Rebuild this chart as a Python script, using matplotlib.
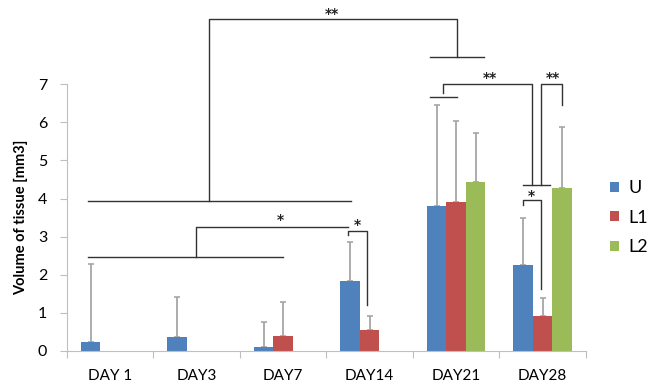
import numpy as np
import matplotlib
matplotlib.use("Agg")
from matplotlib import pyplot as plt

plt.rcParams['font.family'] = ['Lato', 'DejaVu Sans']

# data
days = ["DAY 1", "DAY3", "DAY7", "DAY14", "DAY21", "DAY28"]
series = ["U", "L1", "L2"]
colors = ["#4F81BD", "#C0504D", "#9BBB59"]
u_vals = [0.24, 0.37, 0.11, 1.84, 3.81, 2.27]
l1_vals = [0.0, 0.0, 0.40, 0.55, 3.92, 0.92]
l2_vals = [0.0, 0.0, 0.0, 0.0, 4.44, 4.27]
u_err = [2.04, 1.04, 0.66, 1.01, 2.65, 1.23]
l1_err = [0.0, 0.0, 0.89, 0.38, 2.11, 0.48]
l2_err = [0.0, 0.0, 0.0, 0.0, 1.28, 1.61]

# significance brackets: polylines in data coords (x = category index, y = mm3)
brackets = [
    [(-0.25, 2.47), (2.0, 2.47)],
    [(0.99, 2.47), (0.99, 3.26), (2.75, 3.26)],
    [(-0.25, 3.93), (2.79, 3.93)],
    [(2.75, 3.04), (2.75, 3.15), (2.97, 3.15), (2.97, 1.21)],
    [(1.15, 3.93), (1.15, 8.71), (4.01, 8.71), (4.01, 7.72)],
    [(3.70, 7.72), (4.32, 7.72)],
    [(3.70, 6.67), (4.01, 6.67)],
    [(3.85, 6.78), (3.85, 7.01), (4.88, 7.01), (4.88, 4.36)],
    [(4.77, 4.36), (5.09, 4.36)],
    [(4.98, 4.36), (4.98, 7.01), (5.22, 7.01), (5.22, 6.46)],
    [(4.77, 3.84), (4.77, 3.96), (4.98, 3.96), (4.98, 1.62)],
]
stars = [("**", 2.57, 8.84), ("*", 1.97, 3.44), ("*", 2.86, 3.31),
         ("**", 4.39, 7.16), ("**", 5.12, 7.17), ("*", 4.87, 4.07)]

fig = plt.figure(figsize=(6.49, 3.92), dpi=100)
ax = fig.add_axes([0.1028, 0.1046, 0.8, 0.6804])

x = np.arange(len(days))
w = 0.225
vals = [u_vals, l1_vals, l2_vals]
errs = [u_err, l1_err, l2_err]
for i in range(3):
    pos = x + (i - 1) * w
    v = np.array(vals[i])
    e = np.array(errs[i])
    ax.bar(pos, v, w, color=colors[i], label=series[i], zorder=2)
    m = v > 0
    ax.errorbar(pos[m], v[m], yerr=[np.zeros(m.sum()), e[m]], fmt='none',
                ecolor='#a6a6a6', elinewidth=1.3, capsize=2, capthick=1.2, zorder=1)

for b in brackets:
    bx, by = zip(*b)
    ax.plot(bx, by, color='#333333', lw=1.0, clip_on=False, zorder=3)
for s, sx, sy in stars:
    ax.text(sx, sy, s, ha='center', va='center', fontsize=10, color='#222222',
            family='DejaVu Sans', fontweight='bold')

ax.set_xlim(-0.5, 5.5)
ax.set_ylim(0, 7)
ax.set_yticks(range(8))
ax.set_xticks(np.arange(-0.5, 6.0, 1.0))
ax.set_xticklabels([])
ax.set_xticks(x, minor=True)
ax.set_xticklabels(days, minor=True, fontsize=11)
ax.tick_params(axis='x', which='major', length=5, color='#bfbfbf')
ax.tick_params(axis='x', which='minor', length=0, pad=13)
ax.tick_params(axis='y', length=5, color='#bfbfbf', pad=9, labelsize=11.5)
for sp in ['top', 'right']:
    ax.spines[sp].set_visible(False)
for sp in ['left', 'bottom']:
    ax.spines[sp].set_color('#bfbfbf')

ax.set_ylabel("Volume of tissue [mm3]", fontsize=10.5, fontweight='bold', labelpad=7)

ax.legend(loc='center left', bbox_to_anchor=(1.015, 0.5), frameon=False,
          handlelength=0.5, handleheight=0.5, handletextpad=0.5,
          labelspacing=0.75, fontsize=13)

fig.savefig("out.png", dpi=100)
